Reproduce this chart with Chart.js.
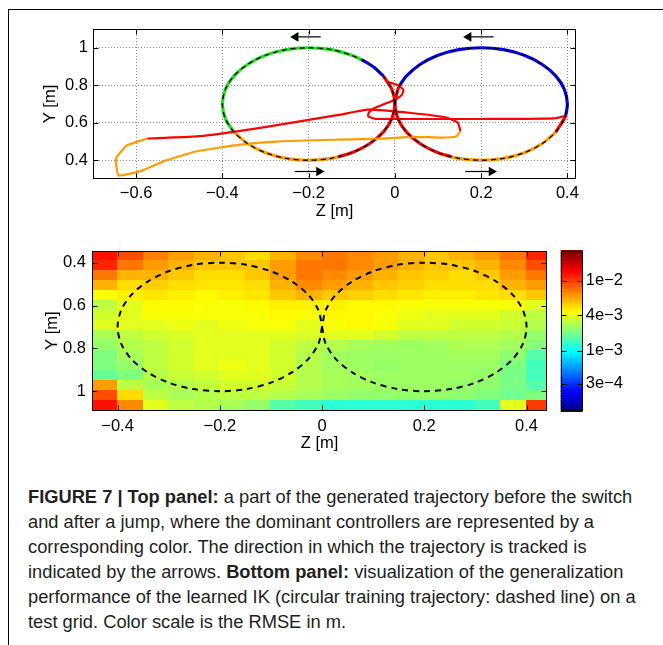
<!DOCTYPE html>
<html>
<head>
<meta charset="utf-8">
<script src="https://cdn.jsdelivr.net/npm/chart.js@4.4.1/dist/chart.umd.min.js"></script>
<style>
  body { margin: 0; background: #fff; width: 663px; height: 645px; overflow: hidden; position: relative;
         font-family: "Liberation Sans", Arial, sans-serif; }
  .frame { position: absolute; left: 8px; top: 9px; width: 700px; height: 700px;
           border-left: 1px solid #000; border-top: 1px solid #000; }
  .box { position: absolute; }
  #caption { position: absolute; left: 28px; top: 484px; font-size: 18.3px; line-height: 25px;
             color: #231f20; white-space: nowrap; }
  #caption b { font-weight: bold; }
</style>
</head>
<body>
<div class="frame"></div>
<div class="box" style="left:20px;top:10px;width:580px;height:220px"><canvas id="topChart" width="580" height="220"></canvas></div>
<div class="box" style="left:20px;top:235px;width:540px;height:220px"><canvas id="heatChart" width="540" height="220"></canvas></div>
<div class="box" style="left:555px;top:235px;width:108px;height:220px"><canvas id="cbChart" width="108" height="220"></canvas></div>
<div id="caption">
  <div><b>FIGURE 7 | Top panel:</b> a part of the generated trajectory before the switch</div>
  <div>and after a jump, where the dominant controllers are represented by a</div>
  <div>corresponding color. The direction in which the trajectory is tracked is</div>
  <div>indicated by the arrows. <b>Bottom panel:</b> visualization of the generalization</div>
  <div>performance of the learned IK (circular training trajectory: dashed line) on a</div>
  <div>test grid. Color scale is the RMSE in m.</div>
</div>
<script>
// ---- tick values ----
const topXTicks = [-0.6, -0.4, -0.2, 0, 0.2, 0.4];
const topYTicks = [0.4, 0.6, 0.8, 1];
const botXTicks = [-0.4, -0.2, 0, 0.2, 0.4];
const botYTicks = [0.4, 0.6, 0.8, 1];

// ---- circular training trajectory, points [z, y] ----
const leftCircle = [[0,0.7],[-0.007,0.778],[-0.027,0.85],[-0.059,0.912],[-0.1,0.96],[-0.148,0.99],[-0.2,1.0],
  [-0.252,0.99],[-0.3,0.96],[-0.341,0.912],[-0.373,0.85],[-0.393,0.778],[-0.4,0.7],[-0.393,0.622],[-0.373,0.55],
  [-0.341,0.488],[-0.3,0.44],[-0.252,0.41],[-0.2,0.4],[-0.148,0.41],[-0.1,0.44],[-0.059,0.488],[-0.027,0.55],
  [-0.007,0.622],[0,0.7]];
const rightCircle = [[0,0.7],[0.007,0.778],[0.027,0.85],[0.059,0.912],[0.1,0.96],[0.148,0.99],[0.2,1.0],
  [0.252,0.99],[0.3,0.96],[0.341,0.912],[0.373,0.85],[0.393,0.778],[0.4,0.7],[0.393,0.622],[0.373,0.55],
  [0.341,0.488],[0.3,0.44],[0.252,0.41],[0.2,0.4],[0.148,0.41],[0.1,0.44],[0.059,0.488],[0.027,0.55],
  [0.007,0.622],[0,0.7]];

// ---- tracked trajectory, coloured by dominant controller ----
const greenLeft = [[-0.373,0.55],[-0.393,0.622],[-0.4,0.7],[-0.393,0.778],[-0.373,0.85],[-0.341,0.912],[-0.3,0.96],
  [-0.252,0.99],[-0.2,1.0],[-0.148,0.99],[-0.1,0.96],[-0.077,0.936]];
const blueLeft = [[-0.077,0.936],[-0.059,0.912],[-0.047,0.893],[-0.027,0.85]];
const redLeft = [[-0.027,0.85],[-0.007,0.778],[0,0.7],[-0.007,0.622],[-0.027,0.55],[-0.059,0.488],[-0.1,0.44],[-0.132,0.418]];
const orangeLeft = [[-0.132,0.418],[-0.148,0.41],[-0.2,0.4],[-0.252,0.41],[-0.3,0.44],[-0.341,0.488],[-0.373,0.55]];
const blueRight = [[0.012,0.803],[0.027,0.85],[0.059,0.912],[0.1,0.96],[0.148,0.99],[0.2,1.0],[0.252,0.99],[0.3,0.96],
  [0.341,0.912],[0.373,0.85],[0.393,0.778],[0.4,0.7],[0.396,0.638]];
const redRightA = [[0.396,0.638],[0.393,0.622],[0.373,0.55]];
const orangeRight = [[0.373,0.55],[0.341,0.488],[0.3,0.44],[0.252,0.41],[0.2,0.4],[0.148,0.41],[0.132,0.418]];
const redRightB = [[0.132,0.418],[0.1,0.44],[0.059,0.488],[0.027,0.55],[0.007,0.622],[0,0.7],[0.007,0.778],[0.012,0.803]];
const jumpRed = [[-0.574,0.516],[-0.459,0.527],[-0.366,0.554],[-0.266,0.59],[-0.127,0.643],[-0.062,0.67],
  [0.038,0.652],[0.119,0.628],[0.146,0.6],[0.152,0.556]];
const jumpOrange = [[0.152,0.556],[0.142,0.527],[0.108,0.521],[0.042,0.525],[-0.027,0.515],[-0.127,0.51],
  [-0.266,0.501],[-0.358,0.483],[-0.459,0.448],[-0.536,0.395],[-0.59,0.342],[-0.64,0.319],[-0.646,0.37],
  [-0.646,0.413],[-0.622,0.478],[-0.574,0.516]];
const switchRed = [[0.396,0.638],[0.37,0.623],[0.2,0.62],[0.1,0.62],[0,0.62],[-0.045,0.621],[-0.062,0.635],
  [-0.06,0.655],[-0.05,0.675],[-0.004,0.719],[0.015,0.745],[0.02,0.775],[0.008,0.8],[-0.02,0.82]];

// direction arrows [from, to]
const arrowsLeft = [[[-0.172,1.058],[-0.23,1.058]], [[0.229,1.058],[0.171,1.058]]];
const arrowsRight = [[[-0.232,0.34],[-0.176,0.34]], [[0.163,0.34],[0.224,0.34]]];

// ---- test grid RMSE (in 1e-3 m), rows top (y=0.345) to bottom (y=1.09) ----
const gridZ = [-0.45,-0.4,-0.35,-0.3,-0.25,-0.2,-0.15,-0.1,-0.05,0,0.05,0.1,0.15,0.2,0.25,0.3,0.35,0.4,0.44];
const gridY = [0.345,0.392,0.438,0.485,0.531,0.578,0.624,0.671,0.718,0.764,0.811,0.857,0.904,0.95,0.997,1.043,1.09];
const rmse = [
  [12.3,9.5,7.7,6.8,6.2,5.7,5.2,6.2,7.4,8.0,7.4,6.8,6.2,5.7,6.2,6.8,8.0,11.3],
  [11.3,8.0,6.8,6.2,5.7,5.7,5.7,6.8,8.0,8.0,7.4,6.8,6.2,5.7,5.7,6.2,7.4,9.5],
  [8.0,6.2,6.2,5.7,5.2,5.2,5.7,6.8,8.0,7.4,6.8,6.2,5.7,5.5,5.2,5.7,6.8,8.0],
  [6.2,5.2,5.5,5.2,5.0,5.0,5.2,6.2,7.4,6.8,6.2,5.7,5.5,5.2,5.2,5.2,6.2,6.8],
  [4.4,4.8,5.0,4.8,4.6,4.8,5.0,5.7,6.2,5.7,5.5,5.2,5.0,4.8,4.8,5.0,5.2,5.7],
  [3.2,4.0,4.6,4.6,4.4,4.4,4.6,4.8,4.8,4.8,4.6,4.6,4.4,4.4,4.4,4.4,4.4,4.0],
  [3.6,4.0,4.4,4.4,4.4,4.4,4.4,4.6,4.4,4.6,4.6,4.4,4.2,4.0,4.0,4.0,3.6,3.2],
  [4.0,4.0,4.0,4.2,4.0,4.2,4.4,4.4,4.0,4.4,4.6,4.4,4.0,4.0,3.6,3.6,3.4,3.0],
  [2.8,3.2,3.6,3.8,4.0,4.0,4.0,4.0,3.8,4.0,4.0,3.6,3.2,3.2,3.2,3.2,3.0,2.5],
  [2.5,3.0,3.2,3.6,4.0,4.0,4.0,3.6,3.2,3.0,2.8,2.7,2.6,2.7,2.9,2.9,2.7,2.3],
  [2.2,2.8,3.2,3.6,4.0,4.0,4.0,3.6,3.0,2.7,2.6,2.6,2.6,2.6,2.7,2.7,2.4,1.7],
  [2.2,2.5,3.2,3.6,4.0,4.2,4.0,3.6,3.0,2.7,2.6,2.5,2.6,2.6,2.6,2.6,2.2,1.5],
  [1.9,2.2,3.0,3.4,3.6,4.0,4.0,3.6,3.0,2.8,2.7,2.6,2.6,2.6,2.6,2.5,2.1,1.5],
  [6.8,3.2,2.8,3.0,3.2,3.6,3.6,3.4,3.0,2.8,2.7,2.6,2.6,2.6,2.5,2.4,2.1,1.7],
  [9.5,5.2,3.2,2.8,3.0,3.2,3.2,3.0,2.8,2.6,2.5,2.5,2.5,2.5,2.4,2.2,2.0,2.2],
  [12.3,7.4,4.0,3.2,3.0,2.8,2.5,1.7,1.5,1.3,1.3,1.3,1.3,1.3,1.3,1.5,4.0,10.3]
];

// ---- colour bar ----
const cbTickValues = [3e-4, 1e-3, 4e-3, 1e-2];
const cbTickPos = [0.166, 0.374, 0.597, 0.811];
const cbTickLabels = ['3e\u22124', '1e\u22123', '4e\u22123', '1e\u22122'];

const FS = 16.5;
Chart.defaults.font.family = '"Liberation Sans", Arial, sans-serif';
Chart.defaults.font.size = FS;
Chart.defaults.color = '#000';

const pts = arr => arr.map(p => ({x: p[0], y: p[1]}));
const fmt = v => String(Math.round(v * 10) / 10).replace('-', '\u2212');

function jet(f) {
  f = Math.max(0, Math.min(1, f));
  let r, g, b;
  if (f < 0.125) { r = 0; g = 0; b = 0.5 + 4 * f; }
  else if (f < 0.375) { r = 0; g = 4 * (f - 0.125); b = 1; }
  else if (f < 0.625) { r = 4 * (f - 0.375); g = 1; b = 1 - 4 * (f - 0.375); }
  else if (f < 0.875) { r = 1; g = 1 - 4 * (f - 0.625); b = 0; }
  else { r = 1 - 4 * (f - 0.875); g = 0; b = 0; }
  return `rgb(${Math.round(r * 255)},${Math.round(g * 255)},${Math.round(b * 255)})`;
}

// position of an RMSE value on the colour bar (log, through the tick marks)
function cbPos(mm) {
  const lv = Math.log10(mm * 1e-3);
  const L = cbTickValues.map(Math.log10);
  let i = 0;
  while (i < L.length - 2 && lv > L[i + 1]) i++;
  const t = (lv - L[i]) / (L[i + 1] - L[i]);
  return cbTickPos[i] + t * (cbTickPos[i + 1] - cbTickPos[i]);
}

// axes box and inward ticks like matlab
const boxPlugin = {
  id: 'box',
  afterDraw(chart) {
    const {ctx, chartArea: a, scales} = chart;
    const L = Math.round(a.left) + 0.5, R = Math.round(a.right) - 0.5;
    const T = Math.round(a.top) + 0.5, B = Math.round(a.bottom) - 0.5;
    ctx.save();
    ctx.strokeStyle = '#000';
    ctx.lineWidth = 1;
    ctx.beginPath();
    if (scales.x.options.display) {
      scales.x.ticks.forEach(t => {
        const px = Math.round(scales.x.getPixelForValue(t.value)) + 0.5;
        ctx.moveTo(px, B); ctx.lineTo(px, B - 5);
        ctx.moveTo(px, T); ctx.lineTo(px, T + 5);
      });
    }
    scales.y.ticks.forEach(t => {
      const py = Math.round(scales.y.getPixelForValue(t.value)) + 0.5;
      ctx.moveTo(L, py); ctx.lineTo(L + 5, py);
      ctx.moveTo(R, py); ctx.lineTo(R - 5, py);
    });
    ctx.stroke();
    ctx.strokeRect(L, T, R - L, B - T);
    ctx.restore();
  }
};

function axis(opts) {
  return {
    type: 'linear',
    min: opts.min, max: opts.max, reverse: !!opts.reverse, position: opts.position,
    afterBuildTicks: s => { s.ticks = opts.ticks.map(v => ({value: v})); },
    afterFit: s => { if (opts.w !== undefined) s.width = opts.w; if (opts.h !== undefined) s.height = opts.h; },
    grid: {display: !!opts.grid, drawTicks: false, color: 'rgba(0,0,0,0.45)', lineWidth: 1},
    border: {display: false, dash: [1, 2]},
    ticks: {padding: opts.pad, callback: opts.labels || (v => fmt(v)), font: {size: FS}},
    title: opts.title ? {display: true, text: opts.title, font: {size: FS}, padding: opts.titlePad} : {display: false}
  };
}

// ---------------- top panel ----------------
const lineDs = (arr, color, width, order, extra) => Object.assign({
  data: pts(arr), showLine: true, borderColor: color, borderWidth: width, pointRadius: 0,
  tension: 0.3, fill: false, order: order
}, extra || {});

const topDatasets = [
  lineDs(leftCircle, '#000', 1.3, 0, {borderDash: [5, 4]}),
  lineDs(rightCircle, '#000', 1.3, 0, {borderDash: [5, 4]}),
  lineDs(greenLeft, '#1de01d', 3.2, 3),
  lineDs(blueLeft, '#0000ff', 3.2, 3),
  lineDs(redLeft, '#ff0000', 3.2, 3),
  lineDs(orangeLeft, '#ff9c00', 3.2, 3),
  lineDs(blueRight, '#0000ff', 3.2, 3),
  lineDs(redRightA, '#ff0000', 3.2, 3),
  lineDs(orangeRight, '#ff9c00', 3.2, 3),
  lineDs(redRightB, '#ff0000', 3.2, 3),
  lineDs(jumpRed, '#ff0000', 2.2, 2, {tension: 0.15}),
  lineDs(jumpOrange, '#ff9c00', 2.2, 2, {tension: 0.15}),
  lineDs(switchRed, '#ff0000', 2.2, 2, {tension: 0.15})
];
arrowsLeft.forEach(a => topDatasets.push(lineDs(a, '#000', 1.2, 0, {
  tension: 0, pointRadius: [0, 5.5], pointStyle: 'triangle', rotation: -90, pointBackgroundColor: '#000', pointBorderWidth: 0
})));
arrowsRight.forEach(a => topDatasets.push(lineDs(a, '#000', 1.2, 0, {
  tension: 0, pointRadius: [0, 5.5], pointStyle: 'triangle', rotation: 90, pointBackgroundColor: '#000', pointBorderWidth: 0
})));

new Chart(document.getElementById('topChart'), {
  type: 'scatter',
  data: {datasets: topDatasets},
  options: {
    responsive: false, animation: false, devicePixelRatio: 1,
    layout: {padding: {left: 0, right: 24, top: 19, bottom: 0}},
    plugins: {legend: {display: false}, tooltip: {enabled: false}},
    scales: {
      x: axis({min: -0.7, max: 0.42, ticks: topXTicks, h: 51, pad: 4.4, grid: true, title: 'Z [m]', titlePad: {top: 0, bottom: 8.4}}),
      y: axis({min: 0.3, max: 1.1, ticks: topYTicks, w: 73, pad: 5, grid: true, title: 'Y [m]', titlePad: {top: 20.8, bottom: 0}})
    }
  },
  plugins: [boxPlugin]
});

// ---------------- bottom panel (heat map) ----------------
const heatPlugin = {
  id: 'heat',
  beforeDatasetsDraw(chart) {
    const {ctx, chartArea: a, scales: {x, y}} = chart;
    ctx.save();
    ctx.beginPath();
    ctx.rect(a.left, a.top, a.width, a.height);
    ctx.clip();
    rmse.forEach((row, r) => {
      const y0 = y.getPixelForValue(gridY[r]), y1 = y.getPixelForValue(gridY[r + 1]);
      row.forEach((v, c) => {
        const x0 = x.getPixelForValue(gridZ[c]), x1 = x.getPixelForValue(gridZ[c + 1]);
        ctx.fillStyle = jet(cbPos(v));
        ctx.fillRect(Math.floor(x0), Math.floor(Math.min(y0, y1)),
          Math.ceil(Math.abs(x1 - x0)) + 1, Math.ceil(Math.abs(y1 - y0)) + 1);
      });
    });
    ctx.restore();
  }
};

new Chart(document.getElementById('heatChart'), {
  type: 'scatter',
  data: {datasets: [
    lineDs(leftCircle, '#000', 2, 0, {borderDash: [6, 5]}),
    lineDs(rightCircle, '#000', 2, 0, {borderDash: [6, 5]})
  ]},
  options: {
    responsive: false, animation: false, devicePixelRatio: 1,
    layout: {padding: {left: 0, right: 13, top: 15.5, bottom: 0}},
    plugins: {legend: {display: false}, tooltip: {enabled: false}},
    scales: {
      x: axis({min: -0.45, max: 0.44, ticks: botXTicks, h: 44.5, pad: 6.3, title: 'Z [m]', titlePad: {top: 0, bottom: 2.1}}),
      y: axis({min: 0.345, max: 1.09, reverse: true, ticks: botYTicks, w: 72, pad: 6, title: 'Y [m]', titlePad: {top: 22.8, bottom: 0}})
    }
  },
  plugins: [heatPlugin, boxPlugin]
});

// ---------------- colour bar ----------------
const cbPlugin = {
  id: 'cbar',
  beforeDatasetsDraw(chart) {
    const {ctx, chartArea: a, scales: {y}} = chart;
    const n = 64;
    for (let i = 0; i < n; i++) {
      const y0 = y.getPixelForValue(i / n), y1 = y.getPixelForValue((i + 1) / n);
      ctx.fillStyle = jet((i + 0.5) / n);
      ctx.fillRect(a.left, Math.floor(y1), a.width, Math.ceil(y0 - y1) + 1);
    }
  }
};

new Chart(document.getElementById('cbChart'), {
  type: 'scatter',
  data: {datasets: []},
  options: {
    responsive: false, animation: false, devicePixelRatio: 1,
    layout: {padding: {left: 5.7, right: 0, top: 15.5, bottom: 44.5}},
    plugins: {legend: {display: false}, tooltip: {enabled: false}},
    scales: {
      x: {type: 'linear', display: false, min: 0, max: 1},
      y: axis({min: 0, max: 1, position: 'right', ticks: cbTickPos, w: 80.3, pad: 3,
               labels: (v, i) => cbTickLabels[i]})
    }
  },
  plugins: [cbPlugin, boxPlugin]
});
</script>
</body>
</html>
